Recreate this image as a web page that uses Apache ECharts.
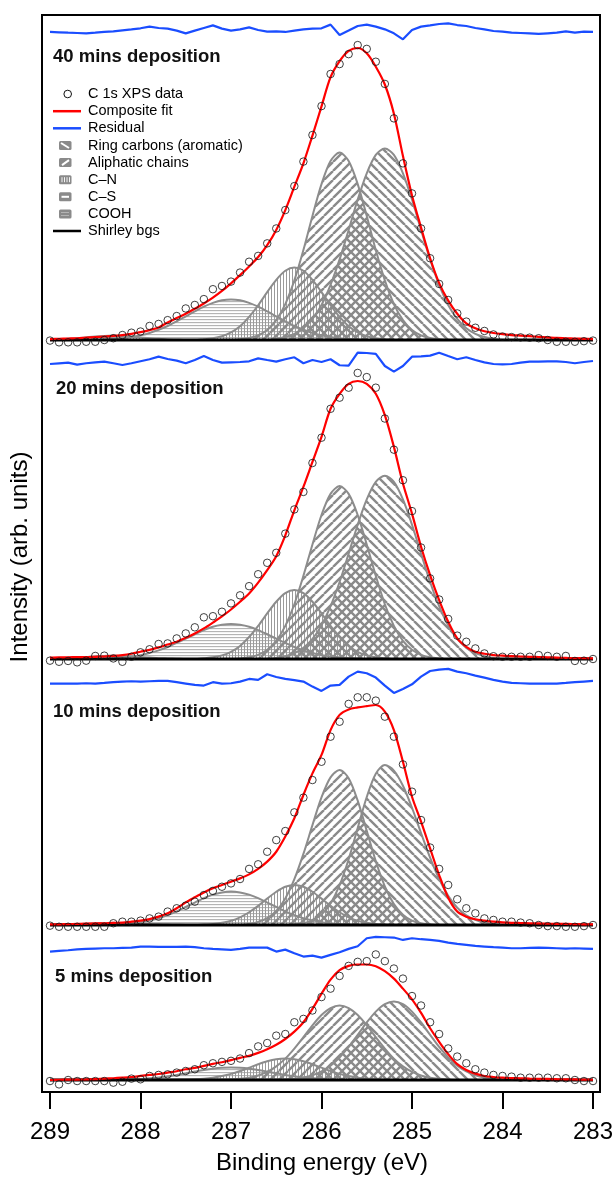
<!DOCTYPE html>
<html><head><meta charset="utf-8">
<script src="https://cdn.jsdelivr.net/npm/echarts@6/dist/echarts.min.js"></script>
<style>html,body{margin:0;padding:0;background:#fff}#c{width:614px;height:1180px}</style>
</head><body><div id="c"></div>
<script>
// ---------------- DATA ----------------
const energy = [289.0,288.9,288.8,288.7,288.6,288.5,288.4,288.3,288.2,288.1,288.0,287.9,287.8,287.7,287.6,287.5,287.4,287.3,287.2,287.1,287.0,286.9,286.8,286.7,286.6,286.5,286.4,286.3,286.2,286.1,286.0,285.9,285.8,285.7,285.6,285.5,285.4,285.3,285.2,285.1,285.0,284.9,284.8,284.7,284.6,284.5,284.4,284.3,284.2,284.1,284.0,283.9,283.8,283.7,283.6,283.5,283.4,283.3,283.2,283.1,283.0];
const xTicks = [289,288,287,286,285,284,283];
const panelLabels = ['40 mins deposition','20 mins deposition','10 mins deposition','5 mins deposition'];
const legendNames = ['C 1s XPS data','Composite fit','Residual','Ring carbons (aromatic)','Aliphatic chains','C\u2013N','C\u2013S','COOH','Shirley bgs'];

// 40 min
const data40 = [-.002,-.008,-.008,-.008,-.006,-.006,0,.006,.017,.025, .029,.048,.055,.068,.082,.108,.12,.14,.174,.185, .20,.231,.268,.288,.331,.382,.445,.527,.611,.702, .801,.911,.945,.979,1.010,.997,.953,.877,.759,.605, .502,.382,.280,.192,.137,.091,.063,.042,.031,.019, .012,.010,.009,.008,.006,0,-.006,-.006,-.006,-.004,-.002];
const fit40 = [.003,.004,.005,.006,.008,.010,.012,.014,.017,.021, .027,.034,.043,.060,.075,.090,.107,.125,.145,.168, .194,.222,.252,.284,.325,.377,.445,.525,.605,.700, .800,.900,.955,.990,1.0,.982,.936,.875,.775,.630, .495,.385,.280,.195,.135,.090,.057,.040,.030,.024, .020,.017,.015,.013,.011,.009,.007,.006,.005,.004,.003];
const resid40 = [-.03,-.06,-.1,-.13,-.16,-.1,-.03,.03,.13,.22, .32,.48,.35,.29,.1,-.16,.1,.35,.6,.29, .1,.22,.41,.16,0,.03,-.03,.1,.22,.29, .32,.67,-.32,.1,.54,.67,.48,.22,-.16,-.73, .16,.48,.6,.73,.79,.63,.54,.35,.22,.06, 0,-.1,-.13,-.16,-.22,-.16,-.1,.03,-.1,0,-.03];
const ring40 = [0,0,0,0,0,0,0,0,0,0, 0,0,0,0,0,0,0,0,0,0, 0,0,0,0,0, .004,.010,.021,.040,.072, .120,.189,.276,.377,.481, .571,.634,.656,.634,.571, .481,.377,.276,.189,.120, .072,.040,.021,.010,.004, 0,0,0,0,0,0,0,0,0,0,0];
const aliph40 = [0,0,0,0,0,0,0,0,0,0, 0,0,0,0,0,0,0,0,0,0, 0, .003,.007,.016,.034,.068,.123,.204,.308,.425,.534,.613,.642,.613,.534,.425,.308,.204,.123,.068,.034,.016,.007,.003, 0,0,0,0,0,0,0,0,0,0, 0,0,0,0,0,0,0];
const cn40 = [0,0,0,0,0,0,0,0,0,0, 0,0,0,0,0,0,0, .003,.006,.013,.026,.047,.079,.119,.164,.206,.237,.248,.237,.206,.164,.119,.079,.047,.026,.013,.006,.003, 0,0,0,0,0,0,0,0,0,0, 0,0,0,0,0,0,0,0,0,0, 0,0,0];
const cs40 = [0,0,0,0,0,0, .002,.004,.006,.010,.016,.024,.035,.048,.064,.081,.098,.114,.127,.136,.139,.136,.127,.114,.098,.081,.064,.048,.035,.024,.016,.010,.006,.004,.002, 0,0,0,0,0,0,0,0,0,0, 0,0,0,0,0,0,0,0,0,0, 0,0,0,0,0,0];
const cooh40 = [.001,.002,.004,.006,.009,.012,.014,.015,.014,.012,.009,.006,.004,.002,.001, 0,0,0,0,0,0,0,0,0,0, 0,0,0,0,0,0,0,0,0,0, 0,0,0,0,0,0,0,0,0,0, 0,0,0,0,0,0,0,0,0,0, 0,0,0,0,0,0];
const shirley40 = [0,0];

// 20 min
const data20 = [-.006,-.01,-.007,-.012,-.006,.011,.012,.002,-.01,.008, .024,.035,.054,.056,.074,.092,.114,.15,.154,.170, .20,.229,.262,.305,.346,.382,.451,.538,.601,.705, .796,.90,.94,.976,1.029,1.014,.976,.865,.753,.643, .532,.401,.29,.214,.144,.084,.062,.038,.02,.01, .008,.008,.008,.008,.014,.011,.008,.011,-.007,-.006,0];
const fit20 = [.005,.006,.006,.007,.007,.008,.009,.011,.014,.019, .026,.033,.042,.052,.062,.076,.092,.110,.131,.153, .178,.206,.236,.275,.320,.370,.445,.535,.619,.709, .799,.900,.954,.990,1.0,.990,.954,.877,.763,.631, .523,.404,.302,.212,.134,.074,.044,.026,.019,.014, .012,.010,.009,.008,.007,.006,.005,.004,.003,.003,.002];
const resid20 = [-.13,-.06,0,-.19,-.06,.03,.1,-.06,-.22,-.06, .13,.32,.57,.35,.19,-.06,.25,.63,.25,0, .03,.06,.13,.41,.25,.1,.32,.51,-.06,.25, .06,.32,-.25,-.29,.95,.92,.83,-.32,-.86,-.32, .57,.6,.67,.95,.63,.32,.51,.25,.03,-.13, -.16,-.13,0,.1,.1,.13,.13,.06,-.06,.06,.16];
const ring20 = [0,0,0,0,0,0,0,0,0,0, 0,0,0,0,0,0,0,0,0,0, 0,0,0,0,0, .004,.010,.021,.040,.072, .121,.190,.277,.379,.483, .574,.637,.659,.637,.574, .483,.379,.277,.190,.121, .072,.040,.021,.010,.004, 0,0,0,0,0,0,0,0,0,0,0];
const aliph20 = [0,0,0,0,0,0,0,0,0,0, 0,0,0,0,0,0,0,0,0,0, 0, .002,.006,.015,.033,.065,.119,.197,.299,.412,.518,.594,.622,.594,.518,.412,.299,.197,.119,.065,.033,.015,.006,.002, 0,0,0,0,0,0,0,0,0,0, 0,0,0,0,0,0,0];
const cn20 = [0,0,0,0,0,0,0,0,0,0, 0,0,0,0,0,0,0, .003,.006,.013,.026,.047,.079,.119,.164,.206,.237,.248,.237,.206,.164,.119,.079,.047,.026,.013,.006,.003, 0,0,0,0,0,0,0,0,0,0, 0,0,0,0,0,0,0,0,0,0, 0,0,0];
const cs20 = [0,0,0,0,0,0, .002,.003,.006,.009,.014,.022,.031,.043,.058,.073,.089,.104,.116,.123,.126,.123,.116,.104,.089,.073,.058,.043,.031,.022,.014,.009,.006,.003,.002, 0,0,0,0,0,0,0,0,0,0, 0,0,0,0,0,0,0,0,0,0, 0,0,0,0,0,0];
const cooh20 = [.001,.002,.003,.005,.007,.010,.011,.012,.011,.010,.007,.005,.003,.002,.001, 0,0,0,0,0,0,0,0,0,0, 0,0,0,0,0,0,0,0,0,0, 0,0,0,0,0,0,0,0,0,0, 0,0,0,0,0,0,0,0,0,0, 0,0,0,0,0,0];
const shirley20 = [0,0];

// 10 min
const data10 = [-.003,-.008,-.008,-.008,-.008,-.008,-.008,.008,.015,.015, .020,.030,.038,.061,.076,.088,.106,.136,.155,.174, .189,.209,.255,.276,.333,.386,.427,.512,.579,.659, .742,.856,.924,1.005,1.035,1.035,1.02,.947,.856,.730, .606,.477,.352,.255,.182,.117,.076,.053,.030,.023, .015,.015,.011,.008,0,-.005,-.005,-.008,-.008,-.005,0];
const fit10 = [.003,.003,.004,.005,.006,.007,.008,.010,.011,.015, .020,.027,.038,.053,.076,.103,.126,.148,.167,.182, .197,.212,.230,.255,.288,.333,.402,.485,.591,.689, .773,.886,.955,.980,.989,.995,1.0,.970,.886,.742, .583,.470,.348,.227,.124,.061,.038,.026,.020,.015, .012,.010,.009,.008,.007,.006,.005,.005,.004,.003,.003];
const resid10 = [-.03,-.03,-.03,-.03,0,-.03,.03,.1,.16,.19, .16,.19,.22,.22,.1,-.03,-.16,-.22,.1,-.03, 0,.16,.41,.32,.86,.6,.41,.29,.16,-.32, -.73,-.22,-.16,.63,1.11,.95,.54,-.22,-.92,-.54, -.1,.63,1.17,1.3,1.37,1.11,.95,.73,.54,.32, .16,.03,0,-.03,-.03,-.03,-.03,.03,.1,.16,.22];
const ring10 = [0,0,0,0,0,0,0,0,0,0, 0,0,0,0,0,0,0,0,0,0, 0,0,0,0,0,0,0, .003,.008,.021,.048,.098,.181,.299,.441,.582,.688,.727,.702,.633,.533,.418,.306,.209,.133,.079,.044,.023,.011,.005, 0,0,0,0,0,0,0,0,0,0,0];
const aliph10 = [0,0,0,0,0,0,0,0,0,0, 0,0,0,0,0,0,0,0,0,0, 0,0, .005,.014,.031,.064,.121,.208,.323,.454,.580,.671,.705,.667,.565,.428,.290,.176,.095,.047,.020,.008,.003, 0,0,0,0,0,0,0,0,0,0, 0,0,0,0,0,0,0,0];
const cn10 = [0,0,0,0,0,0,0,0,0,0, 0,0,0,0,0,0,0, .002,.004,.010,.019,.035,.058,.087,.120,.151,.174,.182,.174,.151,.120,.087,.058,.035,.019,.010,.004,.002, 0,0,0,0,0,0,0,0,0,0, 0,0,0,0,0,0,0,0,0,0, 0,0,0];
const cs10 = [0,0,0,0,0,0, .001,.002,.004,.008,.013,.021,.031,.045,.062,.082,.102,.122,.138,.148,.152,.148,.138,.122,.102,.082,.062,.045,.031,.021,.013,.008,.004,.002,.001, 0,0,0,0,0,0,0,0,0,0, 0,0,0,0,0,0,0,0,0,0, 0,0,0,0,0,0];
const cooh10 = [.001,.002,.003,.004,.006,.008,.009,.010,.009,.008,.006,.004,.003,.002,.001, 0,0,0,0,0,0,0,0,0,0, 0,0,0,0,0,0,0,0,0,0, 0,0,0,0,0,0,0,0,0,0, 0,0,0,0,0,0,0,0,0,0, 0,0,0,0,0,0];
const shirley10 = [0,0];

// 5 min
const data5 = [-.009,-.038,0,-.009,-.009,-.009,-.009,-.023,-.015,.012, .006,.035,.044,.049,.064,.078,.093,.128,.145,.157, .166,.186,.233,.291,.320,.384,.398,.500,.529,.602, .718,.791,.901,.988,1.023,1.029,1.087,1.029,.965,.878, .727,.645,.500,.398,.273,.203,.145,.093,.064,.044, .035,.029,.020,.020,.020,.020,.015,.015,0,-.009,-.009];
const fit5 = [0,.002,.003,.004,.005,.007,.012,.015,.020,.026, .035,.044,.052,.064,.076,.093,.105,.122,.140,.154, .172,.192,.209,.235,.267,.305,.355,.419,.50,.616, .747,.869,.951,.988,1.0,1.0,.985,.942,.878,.791, .698,.581,.448,.331,.224,.137,.087,.055,.035,.026, .020,.017,.015,.012,.010,.009,.007,.006,.005,.003,.002];
const resid5 = [-.32,-.25,-.19,-.1,-.06,-.03,0,0,.03,.06, .16,.16,.13,.13,.13,.16,.1,0,-.06,-.1, -.16,-.06,.06,.06,.06,-.32,-.13,-.48,-.79,-.7, -.89,-.63,-.38,-.06,.19,.95,1.08,1.05,1.02,.79, .95,.86,.79,.7,.54,.41,.32,.22,.16,.1, .06,0,0,.03,.06,.03,0,-.03,0,-.03,-.06];
const ring5 = [0,0,0,0,0,0,0,0,0,0, 0,0,0,0,0,0,0,0,0,0, 0,0,0,0,0,0, .005,.010,.021,.041,.074,.124,.195,.286,.391,.498,.592,.657,.680,.657,.592,.498,.391,.286,.195,.124,.074,.041,.021,.010,.005, 0,0,0,0,0,0,0,0,0,0];
const aliph5 = [0,0,0,0,0,0,0,0,0,0, 0,0,0,0,0,0,0,0,0,0, .004,.010,.020,.039,.070,.118,.185,.272,.371,.473,.562,.623,.645,.623,.562,.473,.371,.272,.185,.118,.070,.039,.020,.010,.004, 0,0,0,0,0,0,0,0,0,0, 0,0,0,0,0,0];
const cn5 = [0,0,0,0,0,0,0,0,0,0, 0,0,0,0, .001,.003,.006,.011,.020,.034,.053,.078,.107,.136,.162,.180,.186,.180,.162,.136,.107,.078,.053,.034,.020,.011,.006,.003,.001, 0,0,0,0,0,0,0,0,0,0, 0,0,0,0,0,0,0,0,0,0, 0,0];
const cs5 = [0,0,0,0,0,0, .001,.002,.003,.005,.009,.015,.022,.032,.044,.058,.073,.087,.098,.105,.108,.105,.098,.087,.073,.058,.044,.032,.022,.015,.009,.005,.003,.002,.001, 0,0,0,0,0,0,0,0,0,0, 0,0,0,0,0,0,0,0,0,0, 0,0,0,0,0,0];
const cooh5 = [.001,.001,.002,.003,.005,.006,.007,.008,.007,.006,.005,.003,.002,.001,.001, 0,0,0,0,0,0,0,0,0,0, 0,0,0,0,0,0,0,0,0,0, 0,0,0,0,0,0,0,0,0,0, 0,0,0,0,0,0,0,0,0,0, 0,0,0,0,0,0];
const shirley5 = [0,0];
const shirleyX = [289, 283];

// ---------------- LAYOUT ----------------
const FONT = '"Liberation Sans", Arial, sans-serif';
const panels = [
  {label: panelLabels[0], data: data40, fit: fit40, resid: resid40, ring: ring40, aliph: aliph40, cn: cn40, cs: cs40, cooh: cooh40, shirley: shirley40,
   top: 48, h: 292, rTop: 15.9, lx: 53, ly: 57},
  {label: panelLabels[1], data: data20, fit: fit20, resid: resid20, ring: ring20, aliph: aliph20, cn: cn20, cs: cs20, cooh: cooh20, shirley: shirley20,
   top: 381, h: 278, rTop: 346.9, lx: 56, ly: 389},
  {label: panelLabels[2], data: data10, fit: fit10, resid: resid10, ring: ring10, aliph: aliph10, cn: cn10, cs: cs10, cooh: cooh10, shirley: shirley10,
   top: 705, h: 220, rTop: 667.5, lx: 53, ly: 712},
  {label: panelLabels[3], data: data5, fit: fit5, resid: resid5, ring: ring5, aliph: aliph5, cn: cn5, cs: cs5, cooh: cooh5, shirley: shirley5,
   top: 964.5, h: 115.5, rTop: 932.5, lx: 55, ly: 977}
];
panels.forEach(p => ['data','fit','resid','ring','aliph','cn','cs','cooh'].forEach(k => {
  if (p[k].length !== energy.length) throw new Error(p.label + ' ' + k + ' length ' + p[k].length);
}));

// ---------------- PATTERNS ----------------
function hatch(type, color, lw, size) {
  const c = document.createElement('canvas');
  c.width = size; c.height = size;
  const g = c.getContext('2d');
  g.strokeStyle = color; g.lineWidth = lw; g.lineCap = 'butt';
  g.beginPath();
  if (type === 'back') { [-size, 0, size].forEach(o => { g.moveTo(o, 0); g.lineTo(o + size, size); }); }
  if (type === 'fwd') { [-size, 0, size].forEach(o => { g.moveTo(o, size); g.lineTo(o + size, 0); }); }
  if (type === 'vert') { g.moveTo(size / 2, 0); g.lineTo(size / 2, size); }
  if (type === 'horiz') { g.moveTo(0, size / 2); g.lineTo(size, size / 2); }
  if (type === 'cross') { g.moveTo(size / 2, 0); g.lineTo(size / 2, size); g.moveTo(0, size / 2); g.lineTo(size, size / 2); }
  g.stroke();
  return c;
}
const patRing = hatch('back', '#8a8a8a', 2.4, 9);
const patAliph = hatch('fwd', '#8a8a8a', 2.4, 9);
const patCN = hatch('vert', '#9a9a9a', 1, 3);
const patCS = hatch('horiz', '#a8a8a8', 1, 3.3);
const patCOOH = hatch('cross', '#a0a0a0', 1, 3);

// ---------------- OPTION ----------------
const grids = [], xAxes = [], yAxes = [], series = [];
const pairs = ys => energy.map((x, i) => [x, ys[i]]);
const GRAY = '#8c8c8c';

panels.forEach((p, i) => {
  const gm = 2 * i, gr = 2 * i + 1;
  grids.push({left: 50, right: 21, top: p.top, height: p.h, outerBoundsMode: 'none'});
  grids.push({left: 50, right: 21, top: p.rTop, height: 31.5, outerBoundsMode: 'none'});
  [gm, gr].forEach(g => xAxes.push({type: 'value', gridIndex: g, min: 283, max: 289, inverse: true, show: false}));
  yAxes.push({type: 'value', gridIndex: gm, min: 0, max: 1, show: false});
  yAxes.push({type: 'value', gridIndex: gr, min: -1.5, max: 1.5, show: false});

  const comp = (name, arr, pat) => ({
    type: 'line', name, xAxisIndex: gm, yAxisIndex: gm, data: pairs(arr),
    symbol: 'none', showSymbol: false, smooth: 0.3, clip: false, silent: true, z: 2,
    lineStyle: {color: GRAY, width: 2},
    areaStyle: {color: {image: pat, repeat: 'repeat'}, opacity: 1}
  });
  series.push(comp('COOH', p.cooh, patCOOH));
  series.push(comp('C\u2013S', p.cs, patCS));
  series.push(comp('C\u2013N', p.cn, patCN));
  series.push(comp('Aliphatic chains', p.aliph, patAliph));
  series.push(comp('Ring carbons (aromatic)', p.ring, patRing));
  series.push({type: 'line', name: 'Shirley bgs', xAxisIndex: gm, yAxisIndex: gm,
    data: shirleyX.map((x, k) => [x, p.shirley[k]]), symbol: 'none', clip: false, silent: true, z: 3,
    lineStyle: {color: '#000', width: 3}});
  series.push({type: 'line', name: 'Composite fit', xAxisIndex: gm, yAxisIndex: gm, data: pairs(p.fit),
    symbol: 'none', smooth: 0.3, clip: false, silent: true, z: 4, lineStyle: {color: '#ff0000', width: 2.2}});
  series.push({type: 'line', name: 'Residual', xAxisIndex: gr, yAxisIndex: gr, data: pairs(p.resid),
    symbol: 'none', clip: false, silent: true, z: 4, lineStyle: {color: '#1a4dff', width: 2.2}});
  series.push({type: 'scatter', name: 'C 1s XPS data', xAxisIndex: gm, yAxisIndex: gm, data: pairs(p.data),
    symbol: 'circle', symbolSize: 7.5, clip: false, silent: true, z: 5,
    itemStyle: {color: 'rgba(255,255,255,0)', borderColor: '#111', borderWidth: 1}});
});

// bottom tick axis
grids.push({left: 50, right: 21, top: 1091, height: 1, outerBoundsMode: 'none'});
xAxes.push({type: 'value', gridIndex: 8, min: 283, max: 289, interval: 1, inverse: true, position: 'bottom',
  axisLine: {show: false}, splitLine: {show: false},
  axisTick: {show: true, inside: false, length: 17, lineStyle: {color: '#000', width: 2}},
  axisLabel: {show: true, fontSize: 24, color: '#000', margin: 28, fontFamily: FONT,
    formatter: v => (xTicks.indexOf(v) >= 0 ? String(v) : '')}});
yAxes.push({type: 'value', gridIndex: 8, show: false});

// graphics: frame, titles, panel labels, legend
const graphic = [];
graphic.push({type: 'rect', shape: {x: 42, y: 15, width: 558, height: 1077}, style: {fill: 'none', stroke: '#000', lineWidth: 2}, z: 10});
graphic.push({type: 'text', x: 20, y: 557, rotation: Math.PI / 2,
  style: {text: 'Intensity (arb. units)', font: '24px ' + FONT, fill: '#000', textAlign: 'center', textVerticalAlign: 'middle', verticalAlign: 'middle'}});
graphic.push({type: 'text', x: 322, y: 1163,
  style: {text: 'Binding energy (eV)', font: '24px ' + FONT, fill: '#000', textAlign: 'center', textVerticalAlign: 'middle', verticalAlign: 'middle'}});
panels.forEach(p => graphic.push({type: 'text', x: p.lx, y: p.ly, z: 10,
  style: {text: p.label, font: 'bold 18.5px ' + FONT, fill: '#111', textAlign: 'left', textVerticalAlign: 'middle', verticalAlign: 'middle'}}));

const rows = [94, 111.2, 128.3, 145.5, 162.6, 179.7, 196.8, 214, 231];
legendNames.forEach((name, k) => {
  graphic.push({type: 'text', x: 88, y: rows[k], z: 10,
    style: {text: name, font: '14.5px ' + FONT, fill: '#000', textAlign: 'left', textVerticalAlign: 'middle', verticalAlign: 'middle'}});
});
const ry = rows;
graphic.push({type: 'circle', shape: {cx: 67.7, cy: ry[0], r: 3.8}, style: {fill: 'none', stroke: '#111', lineWidth: 1}, z: 10});
graphic.push({type: 'line', shape: {x1: 53, y1: ry[1], x2: 81, y2: ry[1]}, style: {stroke: '#ff0000', lineWidth: 2.5}, z: 10});
graphic.push({type: 'line', shape: {x1: 53, y1: ry[2], x2: 81, y2: ry[2]}, style: {stroke: '#1a4dff', lineWidth: 2.5}, z: 10});
graphic.push({type: 'line', shape: {x1: 53, y1: ry[8], x2: 81, y2: ry[8]}, style: {stroke: '#000', lineWidth: 2.5}, z: 10});
for (let k = 3; k <= 7; k++) {
  graphic.push({type: 'rect', shape: {x: 59, y: ry[k] - 4.5, width: 12.5, height: 9, r: 1.5}, style: {fill: '#8a8a8a'}, z: 10});
}
graphic.push({type: 'polyline', shape: {points: [[61, ry[3] - 2.5], [69, ry[3] + 2.5]]}, style: {stroke: '#fff', lineWidth: 2}, z: 11});
graphic.push({type: 'polyline', shape: {points: [[62, ry[4] + 2.5], [69, ry[4] - 2.5]]}, style: {stroke: '#fff', lineWidth: 2}, z: 11});
[62, 64.5, 67, 69.5].forEach(xx => graphic.push({type: 'line', shape: {x1: xx, y1: ry[5] - 2.5, x2: xx, y2: ry[5] + 2.5}, style: {stroke: '#fff', lineWidth: 0.9}, z: 11}));
graphic.push({type: 'line', shape: {x1: 61.5, y1: ry[6], x2: 69, y2: ry[6]}, style: {stroke: '#fff', lineWidth: 2}, z: 11});
[ry[7] - 1.5, ry[7] + 1.5].forEach(yy => graphic.push({type: 'line', shape: {x1: 61.5, y1: yy, x2: 69, y2: yy}, style: {stroke: '#ddd', lineWidth: 1, lineDash: [1, 1]}, z: 11}));

const chart = echarts.init(document.getElementById('c'), null, {renderer: 'canvas', width: 614, height: 1180});
chart.setOption({
  animation: false,
  backgroundColor: '#fff',
  grid: grids, xAxis: xAxes, yAxis: yAxes, series, graphic
});
</script></body></html>
